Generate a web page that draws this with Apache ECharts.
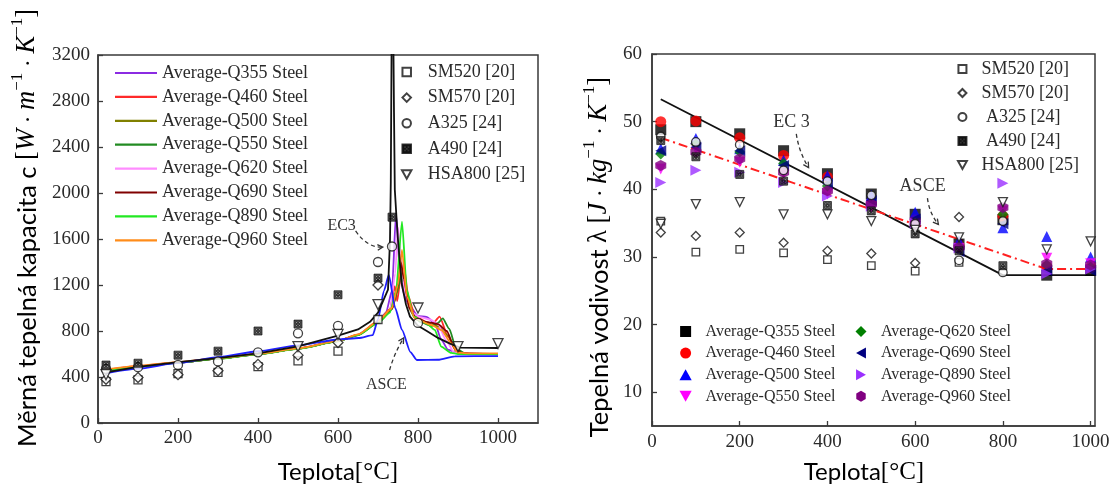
<!DOCTYPE html>
<html>
<head>
<meta charset="utf-8">
<script src="https://cdn.jsdelivr.net/npm/echarts@6/dist/echarts.min.js"></script>
<style>
  html, body { margin: 0; padding: 0; background: #fff; }
  #chart { width: 1119px; height: 488px; }
</style>
</head>
<body>
<div id="chart"></div>
<script>
// ---------- Specific heat c vs temperature (left panel) ----------
// averaged measurements per steel grade, [T °C, c]
const heatQ355 = [[20,452],[100,488],[200,524],[300,560],[400,598],[500,646],[600,712],[650,765],[700,880],[720,960],[735,1150],[745,1820],[755,1300],[765,1120],[775,1040],[800,930],[821,922],[842,870],[858,725],[875,638],[900,605],[1000,598]];
const heatQ460 = [[20,462],[100,495],[200,528],[300,563],[400,600],[500,648],[600,714],[650,768],[700,885],[730,990],[742,1190],[748,1060],[756,1250],[764,1380],[776,1100],[792,930],[834,852],[854,925],[875,751],[896,620],[930,602],[1000,600]];
const heatQ500 = [[20,458],[100,492],[200,526],[300,561],[400,599],[500,647],[600,713],[650,767],[700,880],[735,1000],[750,1150],[758,1340],[766,1200],[780,980],[795,900],[820,870],[850,840],[875,760],[895,630],[920,600],[1000,600]];
const heatQ550 = [[20,456],[100,490],[200,525],[300,560],[400,598],[500,646],[600,712],[650,765],[700,870],[735,990],[750,1180],[758,1300],[768,1150],[785,960],[805,880],[834,845],[850,870],[862,910],[878,820],[895,650],[920,600],[1000,600]];
const heatQ620 = [[20,460],[100,494],[200,527],[300,562],[400,600],[500,648],[600,714],[650,768],[700,880],[730,980],[743,1300],[750,1700],[757,1450],[768,1120],[785,960],[805,920],[830,900],[850,860],[870,720],[890,615],[930,598],[1000,598]];
const heatQ690 = [[20,457],[100,491],[200,525],[300,561],[400,599],[500,647],[600,713],[650,766],[700,875],[735,990],[750,1200],[757,1400],[765,1250],[778,1000],[795,910],[820,880],[850,860],[872,800],[890,660],[910,605],[1000,600]];
const heatQ890 = [[20,455],[100,490],[200,524],[300,559],[400,597],[500,645],[600,711],[650,764],[700,870],[730,960],[745,1150],[760,1750],[772,1157],[789,925],[821,867],[842,809],[858,664],[883,609],[900,600],[1000,598]];
const heatQ960 = [[20,465],[100,497],[200,530],[300,564],[400,601],[500,649],[600,715],[650,770],[700,885],[735,1000],[750,1200],[760,1505],[772,1099],[792,910],[834,852],[858,809],[883,693],[900,612],[930,605],[1000,605]];
// design code curves
const heatASCE = [[20,432],[100,472],[200,522],[300,573],[400,624],[500,675],[600,726],[652,739],[687,765],[700,900],[715,1150],[727,1287],[743,1000],[760,809],[781,617],[797,548],[850,550],[892,580],[1000,582]];
const heatEC3 = [[20,440],[100,488],[200,530],[300,565],[400,606],[500,667],[600,760],[650,814],[680,880],[700,960],[715,1080],[725,1160],[730,1590],[732,2100],[734,3300],[736,5000],[738,3500],[740,2700],[742,2030],[746,1800],[750,1590],[759,1215],[770,1030],[780,925],[800,845],[822,800],[850,740],[880,690],[905,655],[1000,652]];
// test data from literature
const heatSM520 = [[20,360],[100,375],[200,430],[300,440],[400,490],[500,540],[600,625],[700,900]];
const heatSM570 = [[20,380],[100,395],[200,420],[300,455],[400,510],[500,590],[600,700],[700,1200]];
const heatA325 = [[20,470],[100,485],[200,505],[300,535],[400,615],[500,780],[600,845],[700,1400],[735,1535],[800,870]];
const heatA490 = [[20,504],[100,520],[200,590],[300,625],[400,800],[500,860],[600,1115],[700,1260],[735,1790]];
const heatHSA800 = [[20,420],[500,665],[600,770],[700,1030],[800,1000],[900,665],[1000,690]];

// ---------- Thermal conductivity λ vs temperature (right panel) ----------
const condTemps = [20, 100, 200, 300, 400, 500, 600, 700, 800, 900, 1000];
const condQ355 = [48.8, 50.0, 48.2, 45.7, 42.3, 39.3, 36.3, 31.9, 35.5, 27.3, 28.0];
const condQ460 = [50.0, 50.1, 47.6, 45.0, 41.8, 38.0, 35.5, 31.6, 36.0, 28.6, 28.4];
const condQ500 = [46.0, 47.5, 46.0, 44.3, 42.0, 39.1, 36.6, 32.4, 34.3, 33.0, 30.0];
const condQ550 = [43.0, 46.0, 44.0, 42.3, 39.3, 37.3, 34.7, 31.2, 36.8, 29.8, 29.0];
const condQ620 = [45.2, 46.7, 45.5, 43.8, 40.5, 37.8, 35.2, 31.5, 36.3, 28.8, 28.5];
const condQ690 = [45.7, 46.2, 45.7, 43.5, 40.8, 38.3, 35.6, 30.8, 34.9, 28.0, 28.0];
const condQ890 = [41.0, 42.8, 42.5, 41.0, 39.0, 37.5, 35.0, 31.3, 40.9, 27.5, 28.2];
const condQ960 = [43.5, 45.5, 44.5, 42.5, 39.8, 37.8, 34.9, 31.4, 37.3, 29.0, 28.8];
const condSM520 = [[20,35.3],[100,30.7],[200,31.1],[300,30.6],[400,29.6],[500,28.7],[600,27.9],[700,29.2]];
const condSM570 = [[20,33.6],[100,33.1],[200,33.6],[300,32.1],[400,30.9],[500,30.5],[600,29.1],[700,35.9]];
const condA325 = [[20,47.8],[100,47.0],[200,46.6],[300,42.8],[400,41.2],[500,39.1],[600,34.9],[700,29.5],[800,35.3],[800,27.7]];
const condA490 = [[20,47.2],[100,44.8],[200,42.2],[300,41.2],[400,37.6],[500,36.8],[600,33.4],[700,30.9],[800,28.7]];
const condHSA800 = [[20,34.9],[100,37.8],[200,38.1],[300,36.3],[400,36.3],[500,35.3],[600,34.0],[700,32.9],[800,38.1],[900,31.1],[1000,32.3]];
const condEC3 = [[20,53.3],[800,27.3],[1010,27.3]];
const condASCE = [[20,47.6],[900,28.2],[1010,28.2]];

// axis ticks
const tempTicks = [0, 200, 400, 600, 800, 1000];
const condTicks = [10, 20, 30, 40, 50, 60];

// names
const gradeNames = ['Average-Q355 Steel','Average-Q460 Steel','Average-Q500 Steel','Average-Q550 Steel',
                    'Average-Q620 Steel','Average-Q690 Steel','Average-Q890 Steel','Average-Q960 Steel'];
const testNames = ['SM520 [20]','SM570 [20]','A325 [24]','A490 [24]','HSA800 [25]'];

// ---------- styling ----------
const SERIF = '"Liberation Serif", "Times New Roman", serif';
const SANS = 'Lato, "Noto Sans", "Open Sans", sans-serif';
const AXIS_COLOR = '#3a3a3a';
const TEXT_COLOR = '#2a2a2a';

const SQ = 'path://M0,0H10V10H0Z';
const DIA = 'path://M5,0L10,5L5,10L0,5Z';
const TRI_UP = 'path://M5,0L10,9L0,9Z';
const TRI_DN = 'path://M0,0L10,0L5,9Z';
const TRI_LT = 'path://M9,0L9,10L0,5Z';
const TRI_RT = 'path://M0,0L9,5L0,10Z';
const HEX = 'path://M5,0L9.3,2.5L9.3,7.5L5,10L0.7,7.5L0.7,2.5Z';
const HATCH = 'path://M0,0H10V10H0Z M2,2V4H4V2Z M6,2V4H8V2Z M4,4V6H6V4Z M2,6V8H4V6Z M6,6V8H8V6Z';
const BAR = 'path://M0,0H42V2.2H0Z';

const lineColors = ['#8b2be2','#ff2a2a','#808000','#228b22','#ff8cff','#800000','#22e822','#ff8c1a'];
const heatLines = [heatQ355, heatQ460, heatQ500, heatQ550, heatQ620, heatQ690, heatQ890, heatQ960];

const markColors = ['#000000','#ff0000','#0000ff','#ff00ff','#008000','#000080','#9b30ff','#800080'];
const markSymbols = [SQ, 'circle', TRI_UP, TRI_DN, DIA, TRI_LT, TRI_RT, HEX];
const condValues = [condQ355, condQ460, condQ500, condQ550, condQ620, condQ690, condQ890, condQ960];

const testSymbols = [SQ, DIA, 'circle', HATCH, TRI_DN];
const heatTests = [heatSM520, heatSM570, heatA325, heatA490, heatHSA800];
const condTests = [condSM520, condSM570, condA325, condA490, condHSA800];
const testSizesLeft = [8, 10, 9, 8, 10];
const testSizesRight = [7.5, 9, 8.5, 8, 9];

function openStyle(i) {
  return i === 3
    ? { color: '#333', borderColor: '#000', borderWidth: 0.8 }
    : { color: '#fff', borderColor: '#111', borderWidth: 1.3 };
}

const plain = (v) => String(v);

function axisCommon() {
  return {
    type: 'value',
    axisLine: { show: true, lineStyle: { color: AXIS_COLOR, width: 1.5 } },
    axisTick: { show: true, inside: true, length: 5, lineStyle: { color: AXIS_COLOR, width: 1.3 } },
    axisLabel: { fontFamily: SERIF, fontSize: 19, color: TEXT_COLOR, formatter: plain },
    splitLine: { show: false }
  };
}

const series = [];
// left: grade curves
heatLines.forEach((d, i) => series.push({
  name: gradeNames[i], type: 'line', xAxisIndex: 0, yAxisIndex: 0,
  data: d, symbol: 'none', smooth: 0.2, smoothMonotone: 'x',
  lineStyle: { color: lineColors[i], width: 1.8 }, itemStyle: { color: lineColors[i] }, z: 2
}));
series.push({ name: 'ASCE', type: 'line', xAxisIndex: 0, yAxisIndex: 0, data: heatASCE, symbol: 'none',
  smooth: 0.2, smoothMonotone: 'x', lineStyle: { color: '#1f1fff', width: 1.8 }, z: 2 });
series.push({ name: 'EC3', type: 'line', xAxisIndex: 0, yAxisIndex: 0, data: heatEC3, symbol: 'none',
  lineStyle: { color: '#111', width: 1.8 }, z: 2 });
// left: test data
heatTests.forEach((d, i) => series.push({
  name: testNames[i], type: 'scatter', xAxisIndex: 0, yAxisIndex: 0, data: d,
  symbol: testSymbols[i], symbolSize: testSizesLeft[i], itemStyle: openStyle(i), z: 4
}));
// right: code lines
series.push({ name: 'EC 3', type: 'line', xAxisIndex: 1, yAxisIndex: 1, data: condEC3, symbol: 'none',
  lineStyle: { color: '#111', width: 1.8 }, z: 2 });
series.push({ name: 'ASCE λ', type: 'line', xAxisIndex: 1, yAxisIndex: 1, data: condASCE, symbol: 'none',
  lineStyle: { color: '#ff2020', width: 2, type: [9, 4, 2, 4] }, z: 2 });
// right: grade averages
condValues.forEach((vals, i) => series.push({
  name: gradeNames[i], type: 'scatter', xAxisIndex: 1, yAxisIndex: 1,
  data: condTemps.map((t, k) => [t, vals[k]]),
  symbol: markSymbols[i], symbolSize: 11, itemStyle: { color: markColors[i] }, z: 3
}));
// right: test data
condTests.forEach((d, i) => series.push({
  name: testNames[i], type: 'scatter', xAxisIndex: 1, yAxisIndex: 1, data: d,
  symbol: testSymbols[i], symbolSize: testSizesRight[i], itemStyle: openStyle(i), z: 4
}));

const legendText = (size) => ({ fontFamily: SERIF, fontSize: size, lineHeight: size, color: TEXT_COLOR });

const option = {
  animation: false,
  backgroundColor: '#fff',
  grid: [
    { left: 98, top: 55, width: 440, height: 368, show: true, borderColor: AXIS_COLOR, borderWidth: 1.5 },
    { left: 652, top: 54, width: 443, height: 372, show: true, borderColor: AXIS_COLOR, borderWidth: 1.5 }
  ],
  xAxis: [
    Object.assign(axisCommon(), { gridIndex: 0, min: 0, max: 1100,
      axisTick: Object.assign(axisCommon().axisTick, { customValues: tempTicks }),
      axisLabel: Object.assign(axisCommon().axisLabel, { customValues: tempTicks, margin: 6 }) }),
    Object.assign(axisCommon(), { gridIndex: 1, min: 0, max: 1010,
      axisTick: Object.assign(axisCommon().axisTick, { customValues: tempTicks }),
      axisLabel: Object.assign(axisCommon().axisLabel, { customValues: tempTicks, margin: 7 }) })
  ],
  yAxis: [
    Object.assign(axisCommon(), { gridIndex: 0, min: 0, max: 3200, interval: 400,
      axisLabel: Object.assign(axisCommon().axisLabel, { margin: 8 }) }),
    Object.assign(axisCommon(), { gridIndex: 1, min: 5, max: 60,
      axisTick: Object.assign(axisCommon().axisTick, { customValues: condTicks }),
      axisLabel: Object.assign(axisCommon().axisLabel, { customValues: condTicks, margin: 10 }) })
  ],
  legend: [
    { // grade curves, left panel
      orient: 'vertical', left: 115, top: 64, padding: 0, itemWidth: 42, itemHeight: 14, itemGap: 5.9,
      textStyle: legendText(18),
      data: gradeNames.map((n, i) => ({ name: n, icon: BAR, itemStyle: { color: lineColors[i], borderWidth: 0 } }))
    },
    { // test data, left panel
      orient: 'vertical', left: 401, top: 63, padding: 0, itemWidth: 32, itemHeight: 8.5, itemGap: 7.6,
      textStyle: legendText(18), data: testNames
    },
    { // test data, right panel
      orient: 'vertical', left: 957, top: 60, padding: 0, itemWidth: 28, itemHeight: 8, itemGap: 6,
      textStyle: legendText(18), data: testNames,
      formatter: (n) => (n.charAt(0) === 'A' ? ' ' + n : n)
    },
    { // grade averages, right panel, first column
      orient: 'vertical', left: 679.5, top: 323.5, padding: 0, itemWidth: 30, itemHeight: 11, itemGap: 5.6,
      textStyle: legendText(16),
      data: [0, 1, 2, 3].map(i => ({ name: gradeNames[i], icon: markSymbols[i],
        itemStyle: { color: markColors[i], borderWidth: 0 } }))
    },
    { // grade averages, right panel, second column
      orient: 'vertical', left: 855.5, top: 323.5, padding: 0, itemWidth: 30, itemHeight: 11, itemGap: 5.6,
      textStyle: legendText(16),
      data: [4, 5, 6, 7].map(i => ({ name: gradeNames[i], icon: markSymbols[i],
        itemStyle: { color: markColors[i], borderWidth: 0 } }))
    }
  ],
  series: series
};

const chart = echarts.init(document.getElementById('chart'), null, { renderer: 'canvas' });
chart.setOption(option);

// ---------- axis titles and code-curve annotations ----------
const TITLE_COLOR = '#111';
const richTitle = {
  t: { fontFamily: SANS, fontSize: 25.5, lineHeight: 31, verticalAlign: 'bottom', color: TITLE_COLOR },
  b: { fontFamily: SERIF, fontSize: 26.5, lineHeight: 31, verticalAlign: 'bottom', color: TITLE_COLOR },
  i: { fontFamily: SERIF, fontStyle: 'italic', fontSize: 26.5, lineHeight: 31, verticalAlign: 'bottom', color: TITLE_COLOR },
  o: { fontFamily: SERIF, fontSize: 23, lineHeight: 31, verticalAlign: 'bottom', color: TITLE_COLOR },
  s: { fontFamily: SERIF, fontSize: 17, lineHeight: 17, verticalAlign: 'top', color: TITLE_COLOR }
};
const richAxisX = {
  t: { fontFamily: SANS, fontSize: 24, lineHeight: 30, color: TITLE_COLOR },
  b: { fontFamily: SERIF, fontSize: 25, lineHeight: 30, color: TITLE_COLOR }
};

function titleText(x, y, text, rotate, rich) {
  return { type: 'text', x: x, y: y, rotation: rotate ? Math.PI / 2 : 0, z: 10,
    style: { text: text, rich: rich, align: 'center', verticalAlign: 'middle' } };
}

function note(grid, label, fontSize, labelAt, from, ctrl, to) {
  const P = (p) => chart.convertToPixel({ gridIndex: grid }, p);
  const a = P(labelAt), s = P(from), c = P(ctrl), e = P(to);
  const ang = Math.atan2(e[1] - c[1], e[0] - c[0]);
  const h = 6, spread = 0.5;
  return [
    { type: 'text', x: a[0], y: a[1], z: 10,
      style: { text: label, fontFamily: SERIF, fontSize: fontSize, fill: '#333', align: 'center', verticalAlign: 'middle' } },
    { type: 'bezierCurve', z: 10,
      shape: { x1: s[0], y1: s[1], cpx1: c[0], cpy1: c[1], x2: e[0], y2: e[1] },
      style: { stroke: '#333', lineWidth: 1.3, fill: null, lineDash: [4, 3] } },
    { type: 'polyline', z: 10,
      shape: { points: [
        [e[0] - h * Math.cos(ang - spread), e[1] - h * Math.sin(ang - spread)],
        [e[0], e[1]],
        [e[0] - h * Math.cos(ang + spread), e[1] - h * Math.sin(ang + spread)] ] },
      style: { stroke: '#333', lineWidth: 1.3, fill: null } }
  ];
}

chart.setOption({
  graphic: [
    titleText(25, 228, '{t|Měrná tepelná kapacita c }{b|[}{i|W}{o| · }{i|m}{s|−1}{o| · }{i|K}{s|−1}{b|]}', true, richTitle),
    titleText(597, 257, '{t|Tepelná vodivost }{b|λ [}{i|J}{o| · }{i|kg}{s|−1}{o| · }{i|K}{s|−1}{b|]}', true, richTitle),
    titleText(338, 472, '{t|Teplota}{b|[°C]}', false, richAxisX),
    titleText(864, 472, '{t|Teplota}{b|[°C]}', false, richAxisX),
    ...note(0, 'EC3', 16, [609, 1713], [644, 1670], [674, 1520], [712, 1530]),
    ...note(0, 'ASCE', 16, [721, 330], [729, 461], [740, 600], [764, 739]),
    ...note(1, 'EC 3', 18, [318, 49.9], [329, 48.2], [335, 45.5], [357, 43.2]),
    ...note(1, 'ASCE', 18, [617, 40.5], [628, 38.7], [632, 36.5], [653, 34.8])
  ]
});
</script>
</body>
</html>
